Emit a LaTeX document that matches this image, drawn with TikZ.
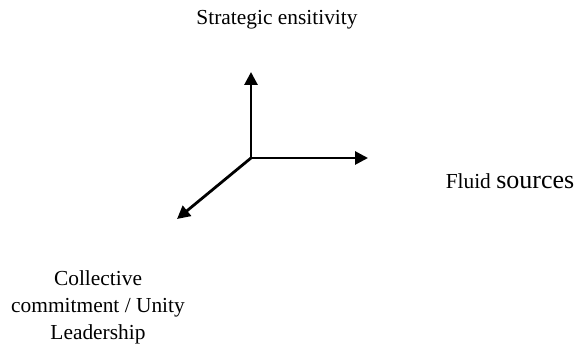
\documentclass[tikz,border=0pt]{standalone}
\usepackage{fontspec}
\setmainfont{Liberation Serif}
\usetikzlibrary{arrows.meta}
\tikzstyle{axlabel}=[inner sep=0pt,align=center,font=\fontsize{10.7pt}{13.5pt}\selectfont]
\tikzstyle{axis}=[-{Triangle[length=6.5pt,width=6.5pt]}, line width=1.4pt]

\begin{document}
\begin{tikzpicture}[x=0.5pt,y=-0.5pt,axis]
\useasboundingbox (0,0) rectangle (582,347);
\coordinate (O) at (251,158);
\coordinate (U) at (251,72);
\coordinate (R) at (368,158);
\coordinate (L) at (177,219);
\node[axlabel] (strat) at (277,20) {Strategic ensitivity};
\node[axlabel] (fluid) at (510,181) {Fluid {\fontsize{13pt}{15pt}\selectfont sources}};
\node[axlabel] (coll) at (98,307) {Collective\\commitment / Unity\\Leadership};
\draw(O)--(U);\draw(O)--(R);\draw(O)--(L);
\end{tikzpicture}
\end{document}
